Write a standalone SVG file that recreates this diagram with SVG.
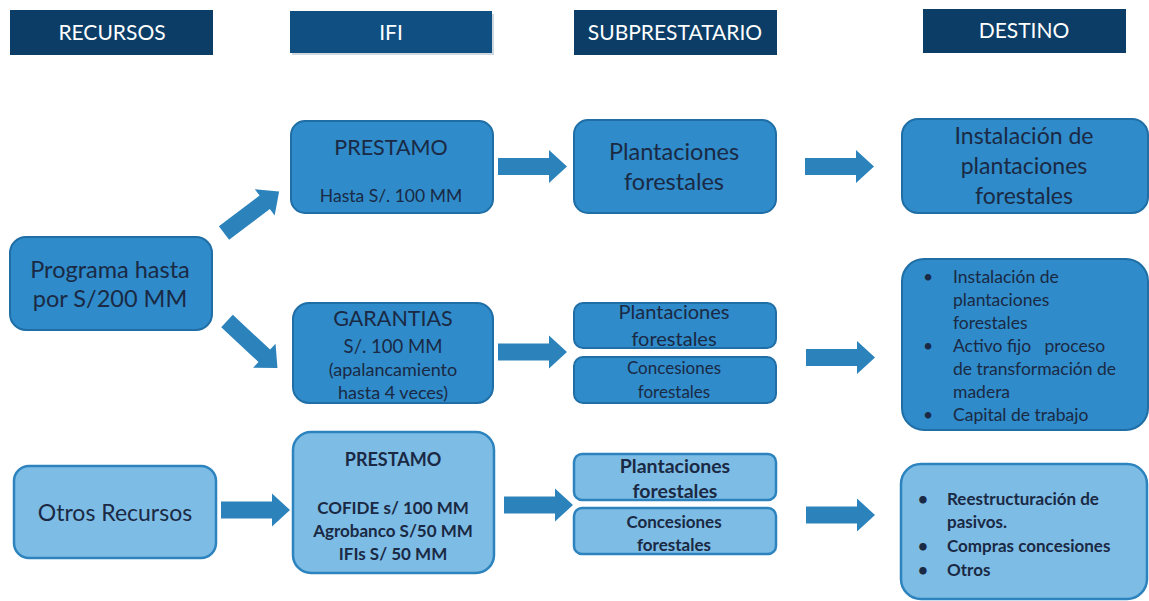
<svg xmlns="http://www.w3.org/2000/svg" width="1149" height="601" viewBox="0 0 1149 601">
<defs>
<style>
.hdr{fill:#0b3d66}
.hdr2{fill:#0f4f82}
.ht{fill:#ffffff;font-family:Lato,"Liberation Sans",sans-serif;font-size:21px;text-anchor:middle}
.box{fill:#2f8bc9;stroke:#1f6ea6;stroke-width:2}
.lbox{fill:#7dbce5;stroke:#2c83bd;stroke-width:2.5}
.t{fill:#1a2944;font-family:Lato,"Liberation Sans",sans-serif;text-anchor:middle}
.tl{fill:#1a2944;font-family:Lato,"Liberation Sans",sans-serif}
.b{font-weight:bold}
.arr{fill:#2c83bc}
</style>
<path id="arrow" d="M0,-8.5 H51 V-16.5 L69,0 L51,16.5 V8.5 H0 Z"/>
</defs>
<rect width="1149" height="601" fill="#ffffff"/>

<g id="hdr-recursos">
<rect class="hdr" x="10" y="10" width="203" height="45"/>
<text class="ht" x="112" y="40">RECURSOS</text>
</g>
<g id="hdr-ifi">
<rect x="292" y="14" width="202" height="41" fill="#cfd8e0"/>
<rect class="hdr2" x="290" y="11" width="202" height="42"/>
<text class="ht" x="391" y="40">IFI</text>
</g>
<g id="hdr-subprestatario">
<rect class="hdr" x="574" y="10" width="203" height="45"/>
<text class="ht" x="675" y="40">SUBPRESTATARIO</text>
</g>
<g id="hdr-destino">
<rect class="hdr" x="923" y="9" width="203" height="44"/>
<text class="ht" x="1024" y="38">DESTINO</text>
</g>

<g id="programa">
<rect class="box" x="10" y="237" width="202" height="93" rx="16"/>
<text class="t" x="110" y="278" font-size="23.5">Programa hasta</text>
<text class="t" x="110" y="307" font-size="23.5">por S/200 MM</text>
</g>

<g id="prestamo1">
<rect class="box" x="291" y="121" width="202" height="92" rx="14"/>
<text class="t" x="391" y="155" font-size="21.5">PRESTAMO</text>
<text class="t" x="391" y="202" font-size="17.5">Hasta S/. 100 MM</text>
</g>

<g id="garantias">
<rect class="box" x="293" y="303" width="200" height="100" rx="16"/>
<text class="t" x="393" y="326" font-size="21.5">GARANTIAS</text>
<text class="t" x="393" y="353" font-size="18.5">S/. 100 MM</text>
<text class="t" x="393" y="376" font-size="18">(apalancamiento</text>
<text class="t" x="393" y="399" font-size="18">hasta 4 veces)</text>
</g>

<g id="plant1">
<rect class="box" x="574" y="120" width="202" height="93" rx="14"/>
<text class="t" x="674" y="160" font-size="23.5">Plantaciones</text>
<text class="t" x="674" y="190" font-size="23.5">forestales</text>
</g>

<g id="plant2">
<rect class="box" x="574" y="303" width="202" height="45" rx="9"/>
<text class="t" x="674" y="319" font-size="20">Plantaciones</text>
<text class="t" x="674" y="346" font-size="20">forestales</text>
</g>

<g id="conc2">
<rect class="box" x="574" y="357" width="202" height="46" rx="9"/>
<text class="t" x="674" y="374" font-size="17">Concesiones</text>
<text class="t" x="674" y="398" font-size="17">forestales</text>
</g>

<g id="instalacion">
<rect class="box" x="902" y="119" width="246" height="94" rx="16"/>
<text class="t" x="1024" y="144" font-size="23">Instalación de</text>
<text class="t" x="1024" y="174" font-size="23">plantaciones</text>
<text class="t" x="1024" y="204" font-size="23">forestales</text>
</g>

<g id="destino2">
<rect class="box" x="902" y="259" width="246" height="171" rx="22"/>
<g class="tl" font-size="17.5">
<text x="923" y="283">•</text>
<text x="953" y="283">Instalación de</text>
<text x="953" y="306">plantaciones</text>
<text x="953" y="329">forestales</text>
<text x="923" y="352">•</text>
<text x="953" y="352" xml:space="preserve">Activo fijo   proceso</text>
<text x="953" y="375">de transformación de</text>
<text x="953" y="398">madera</text>
<text x="923" y="421">•</text>
<text x="953" y="421">Capital de trabajo</text>
</g>
</g>

<g id="otros">
<rect class="lbox" x="14" y="466" width="202" height="92" rx="15"/>
<text class="t" x="115" y="521" font-size="23">Otros Recursos</text>
</g>

<g id="prestamo3">
<rect class="lbox" x="293" y="432" width="201" height="141" rx="18"/>
<text class="t b" x="393" y="466" font-size="18">PRESTAMO</text>
<text class="t b" x="393" y="514" font-size="17">COFIDE s/ 100 MM</text>
<text class="t b" x="393" y="537" font-size="17">Agrobanco S/50 MM</text>
<text class="t b" x="393" y="560" font-size="17">IFIs S/ 50 MM</text>
</g>

<g id="plant3">
<rect class="lbox" x="574" y="454" width="202" height="46" rx="8"/>
<text class="t b" x="675" y="473" font-size="19.5">Plantaciones</text>
<text class="t b" x="675" y="498" font-size="19.5">forestales</text>
</g>

<g id="conc3">
<rect class="lbox" x="574" y="508" width="202" height="46" rx="8"/>
<text class="t b" x="674" y="528" font-size="17">Concesiones</text>
<text class="t b" x="674" y="551" font-size="17">forestales</text>
</g>

<g id="destino3">
<rect class="lbox" x="901" y="464" width="246" height="135" rx="20"/>
<g class="tl b" font-size="17">
<text x="918" y="505">•</text>
<text x="947" y="505">Reestructuración de</text>
<text x="947" y="528">pasivos.</text>
<text x="918" y="552">•</text>
<text x="947" y="552">Compras concesiones</text>
<text x="918" y="576">•</text>
<text x="947" y="576">Otros</text>
</g>
</g>

<g id="connectors" class="arr">
<use href="#arrow" transform="translate(224,233) rotate(-37)"/>
<use href="#arrow" transform="translate(227,321) rotate(43)"/>
<use href="#arrow" transform="translate(498,166.5)"/>
<use href="#arrow" transform="translate(805,166.5)"/>
<use href="#arrow" transform="translate(498,352)"/>
<use href="#arrow" transform="translate(806,357.5)"/>
<use href="#arrow" transform="translate(221,510)"/>
<use href="#arrow" transform="translate(504,505)"/>
<use href="#arrow" transform="translate(806,515)"/>
</g>
</svg>
